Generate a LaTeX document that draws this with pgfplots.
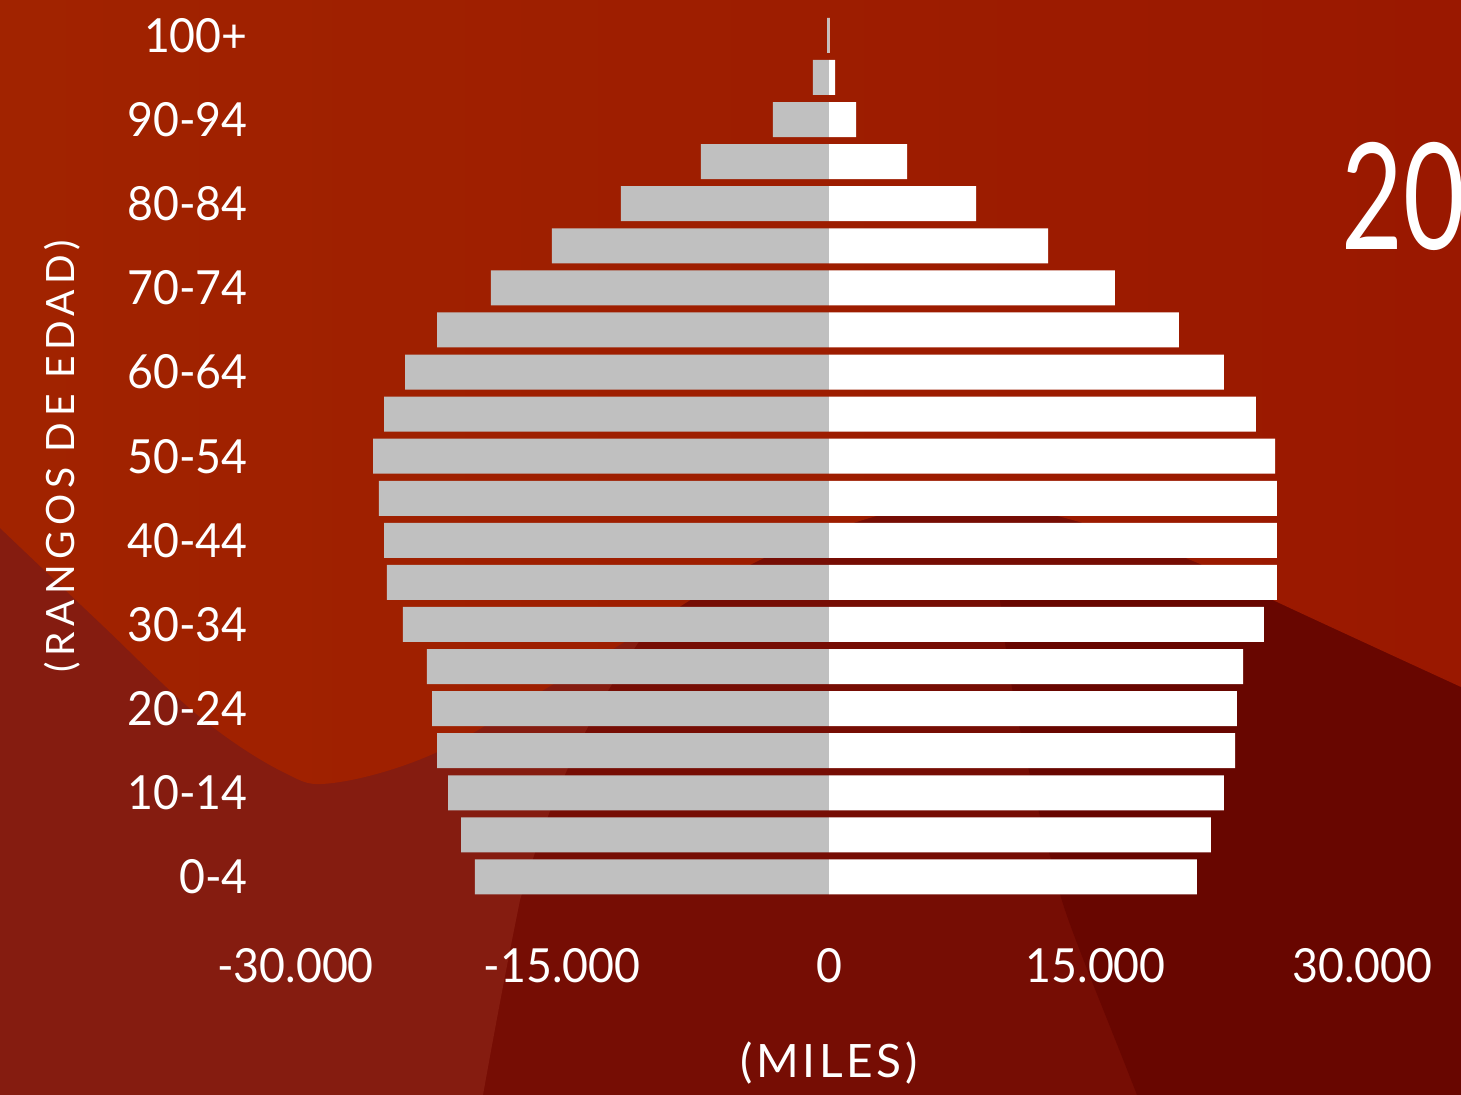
\documentclass[border=0pt]{standalone}
\usepackage{pgfplots}
\usepackage{pgfplotstable}
\pgfplotsset{compat=1.18}
\usepackage{fontspec}
\setmainfont{Lato}
\newfontfamily\yearfont[FakeStretch=0.72]{Lato}
\newfontfamily\xlabelfont[LetterSpace=8]{Lato}
\newfontfamily\ylabelfont[LetterSpace=14]{Lato}
\newfontfamily\tickfont[FakeStretch=0.95]{Lato}
\definecolor{bgOrangeL}{HTML}{A12300}
\definecolor{bgOrangeR}{HTML}{9A1800}
\definecolor{bgBrown}{HTML}{851C10}
\definecolor{bgDark}{HTML}{760D04}
\definecolor{bgDarkest}{HTML}{680600}
\definecolor{barGray}{HTML}{C0C0C0}

\pgfplotstableread{
age left right
0 -19910 20690
1 -20690 21480
2 -21420 22210
3 -22040 22830
4 -22320 22940
5 -22610 23280
6 -23960 24460
7 -24860 25190
8 -25020 25190
9 -25310 25190
10 -25640 25080
11 -25020 24010
12 -23840 22210
13 -22040 19680
14 -19010 16080
15 -15580 12320
16 -11700 8270
17 -7200 4390
18 -3150 1520
19 -900 340
20 -110 40
}\pyramid

\begin{document}
\begin{tikzpicture}
\useasboundingbox (0,0) rectangle (730.5pt,547.5pt);
\clip (0,0) rectangle (730.5pt,547.5pt);
\begin{scope}[x=0.5pt,y=-0.5pt,shift={(0pt,547.5pt)}]
  % background layers
  \fill[bgDark] (0,0) rectangle (1461,1095);
  \fill[bgDarkest] (1137,1095) .. controls (1100,1000) and (1070,930) .. (1060,894)
      .. controls (1030,780) and (1010,700) .. (1000,600) -- (1461,600) -- (1461,1095) -- cycle;
  \fill[bgBrown] (0,400) -- (0,1095) -- (483,1095) .. controls (500,1000) and (510,950) .. (520,900)
      .. controls (550,800) and (580,730) .. (640,640) -- (700,400) -- cycle;
  \shade[left color=bgOrangeL, right color=bgOrangeR]
     (0,0) -- (1461,0) -- (1461,687)
     -- plot[smooth, tension=0.6] coordinates {(1461,687) (1277,602) (1193,561) (1100,528) (1000,505) (900,510) (760,560) (623,643) (547,688) (433,754) (333,783) (283,772) (200,717) (100,623) (0,528)}
     -- cycle;
  % year
  \node[anchor=base west, inner sep=0pt, text=white, font=\yearfont\fontsize{74}{74}\selectfont] at (1341,250) {2020};
\end{scope}

\begin{axis}[
  at={(147.75pt,98.5pt)}, anchor=south west,
  scale only axis, width=533.5pt, height=441.8pt,
  xmin=-30000, xmax=30000, ymin=-0.5, ymax=20.5,
  axis line style={draw=none}, major tick length=0pt,
  scaled x ticks=false,
  xtick={-30000,-15000,0,15000,30000},
  xticklabels={-30.000,-15.000,0,15.000,30.000},
  ytick={0,2,...,20},
  yticklabels={0-4,10-14,20-24,30-34,40-44,50-54,60-64,70-74,80-84,90-94,100+},
  ticklabel style={text=white, font=\tickfont\fontsize{23.5}{28}\selectfont, inner sep=0pt},
  xticklabel style={anchor=base, yshift=-42.5pt},
  yticklabel style={anchor=east, xshift=-23.75pt},
  xlabel={(MILES)},
  xlabel style={at={(axis description cs:0.5,-0.1867)}, anchor=center, text=white, font=\xlabelfont\fontsize{23}{28}\selectfont},
  ylabel={(RANGOS DE EDAD)},
  ylabel style={at={(axis description cs:-0.2188,0.5)}, anchor=center, text=white, font=\ylabelfont\fontsize{19.5}{24}\selectfont},
]
\addplot[xbar, bar shift=0pt, bar width=17.5pt, fill=barGray, draw=none] table[x=left, y=age] {\pyramid};
\addplot[xbar, bar shift=0pt, bar width=17.5pt, fill=white, draw=none] table[x=right, y=age] {\pyramid};
\end{axis}
\end{tikzpicture}
\end{document}
